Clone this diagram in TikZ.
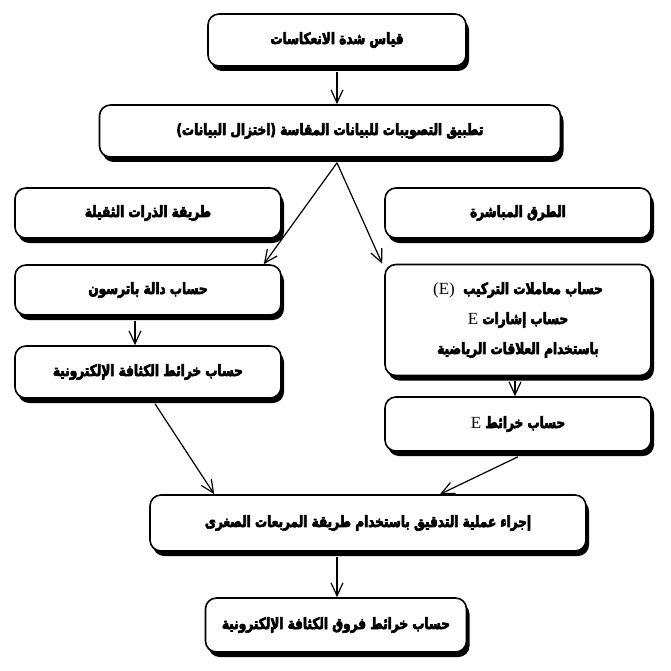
\documentclass[tikz,border=0pt]{standalone}
\usepackage{fontspec}
\setmainfont{Liberation Serif}
\newfontfamily\arabicfont[Script=Arabic, BoldFont={DejaVu Sans Bold}, BoldFeatures={FakeBold=4, FakeStretch=0.78}]{DejaVu Sans}
\TeXXeTstate=1
\usetikzlibrary{arrows.meta,shadows}
\newcommand{\artxt}[1]{{\arabicfont\bfseries\beginR #1\endR}}
\newcommand{\lat}[1]{\beginL{\normalfont\fontsize{17}{17}\selectfont #1}\endL}
\begin{document}
\begin{tikzpicture}[x=1pt,y=-1pt,
  box/.style={draw=black, line width=1.6pt, rounded corners=11pt, fill=white,
    drop shadow={shadow xshift=3pt, shadow yshift=-5pt, opacity=1, fill=black},
    align=center, font=\fontsize{15.5}{30}\selectfont, inner sep=2pt},
  arr/.style={line width=1.2pt, -{Straight Barb[length=13pt,width=12pt,line width=1.2pt]}}]
\useasboundingbox (0,0) rectangle (670,671);
\node[box, minimum width=258pt, minimum height=52pt] (b1) at (337,40) {\artxt{قياس شدة الانعكاسات}};
\node[box, minimum width=461pt, minimum height=52pt] (b2) at (330,131) {\artxt{تطبيق التصويبات للبيانات المقاسة (اختزال البيانات)}};
\node[box, minimum width=266pt, minimum height=50pt] (b3) at (148,213) {\artxt{طريقة الذرات الثقيلة}};
\node[box, minimum width=266pt, minimum height=50pt] (b4) at (518,213) {\artxt{الطرق المباشرة}};
\node[box, minimum width=266pt, minimum height=50pt] (b5) at (148,290) {\artxt{حساب دالة باترسون}};
\node[box, minimum width=266pt, minimum height=111pt] (b6) at (518,320) {\artxt{حساب معاملات التركيب~~\lat{(E)}}\\\artxt{حساب إشارات \lat{E}}\\\artxt{باستخدام العلاقات الرياضية}};
\node[box, minimum width=266pt, minimum height=52pt] (b7) at (148,372) {\artxt{حساب خرائط الكثافة الإلكترونية}};
\node[box, minimum width=266pt, minimum height=54pt] (b8) at (518,424) {\artxt{حساب خرائط \lat{E}}};
\node[box, minimum width=436pt, minimum height=56pt] (b9) at (368,523) {\artxt{إجراء عملية التدقيق باستخدام طريقة المربعات الصغرى}};
\node[box, minimum width=261pt, minimum height=54pt] (b10) at (336,625) {\artxt{حساب خرائط فروق الكثافة الإلكترونية}};
\coordinate (fork) at (b2.south -| b1.south);
\draw[arr] ([yshift=-5pt]b1.south) -- (b2.north -| b1.south);
\draw[arr] ([yshift=-5pt]fork) -- ([xshift=-18pt]b5.north east);
\draw[arr] ([yshift=-5pt]fork) -- ([xshift=-2pt]b6.north west);
\draw[arr] ([xshift=-13pt,yshift=-5pt]b5.south) -- ([xshift=-13pt]b7.north);
\draw[arr] ([xshift=-3pt,yshift=-5pt]b6.south) -- ([xshift=-3pt]b8.north);
\draw[arr] ([xshift=7pt,yshift=-5pt]b7.south) -- ([xshift=65pt]b9.north west);
\draw[arr] ([yshift=-5pt]b8.south) -- ([xshift=72pt]b9.north);
\draw[arr] ([yshift=-5pt]b9.south -| b1.south) -- (b10.north -| b1.south);
\end{tikzpicture}
\end{document}
